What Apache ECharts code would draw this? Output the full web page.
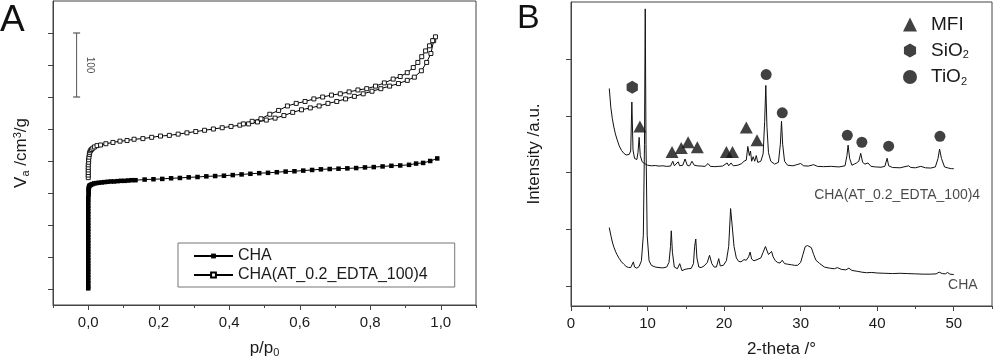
<!DOCTYPE html>
<html><head><meta charset="utf-8">
<script src="https://cdn.jsdelivr.net/npm/echarts@6/dist/echarts.min.js"></script>
<style>html,body{margin:0;padding:0;background:#fff}#c{width:1000px;height:363px}</style>
</head><body><div id="c"></div>
<script>
// ---------- Panel A: N2 isotherms (p/p0, Va cm3/g) ----------
const pressureTicks = [0, 0.2, 0.4, 0.6, 0.8, 1.0];
const pressureMinorTicks = [-0.1, 0.1, 0.3, 0.5, 0.7, 0.9, 1.1];
const volumeTicks = [0, 50, 100, 150, 200, 250, 300, 350, 400];
const chaIsotherm = [[0.000,1],[0.000,4],[0.000,9],[0.000,13],[0.000,18],[0.000,22],[0.000,27],[0.000,31],[0.000,36],[0.000,40],[0.000,45],[0.000,49],[0.000,54],[0.000,58],[0.000,63],[0.000,67],[0.000,72],[0.000,76],[0.000,81],[0.000,85],[0.000,90],[0.000,94],[0.000,99],[0.000,103],[0.000,108],[0.000,112],[0.000,117],[0.000,121],[0.000,126],[0.000,130],[0.000,135],[0.000,139],[0.000,143],[0.001,147],[0.001,151],[0.001,154],[0.001,157],[0.002,159],[0.003,161],[0.005,162],[0.008,163],[0.012,164],[0.017,165],[0.023,165.5],[0.030,166],[0.038,166.5],[0.046,167],[0.055,167.5],[0.064,168],[0.073,168],[0.083,168.5],[0.093,169],[0.103,169],[0.113,169.5],[0.123,170],[0.134,170],[0.160,171],[0.185,171.5],[0.210,172],[0.235,173],[0.260,173.5],[0.285,174.5],[0.310,175],[0.335,176],[0.360,176.5],[0.385,177],[0.410,178],[0.435,179],[0.460,180],[0.485,181],[0.510,181.5],[0.535,182.5],[0.560,183.5],[0.585,184],[0.610,185],[0.635,186],[0.660,187],[0.685,187.5],[0.710,188],[0.735,188.5],[0.760,189],[0.785,190],[0.810,190.5],[0.835,191.5],[0.860,192.5],[0.885,193],[0.910,194],[0.930,196],[0.950,197],[0.970,200],[0.990,204]];
const atAdsorption = [[0.000,174],[0.000,178],[0.000,182],[0.000,186],[0.000,190],[0.000,194],[0.001,198],[0.001,202],[0.002,206],[0.003,210],[0.004,213],[0.006,216],[0.009,218],[0.013,220],[0.018,222],[0.025,224],[0.035,225],[0.050,227],[0.070,229],[0.090,231],[0.110,232],[0.130,234],[0.155,235],[0.180,237],[0.205,239],[0.230,240],[0.255,242],[0.280,244],[0.305,246],[0.330,248],[0.355,250],[0.380,252],[0.405,254],[0.430,256],[0.455,258],[0.480,261],[0.505,264],[0.530,267],[0.555,271],[0.580,276],[0.605,280],[0.630,283],[0.655,286],[0.680,290],[0.705,293],[0.730,297],[0.755,301],[0.780,305],[0.805,309],[0.830,313],[0.855,317],[0.880,321],[0.905,326],[0.925,331],[0.945,341],[0.960,354],[0.972,368],[0.980,388]];
const atDesorption = [[0.985,394],[0.977,388],[0.968,380],[0.957,372],[0.946,363],[0.935,354],[0.922,346],[0.905,338],[0.885,332],[0.865,328],[0.840,322],[0.815,317],[0.790,313],[0.765,311],[0.740,308],[0.715,305],[0.690,303],[0.665,300],[0.640,297],[0.615,293],[0.590,290],[0.565,286],[0.540,279],[0.515,273],[0.490,266],[0.465,262],[0.440,258]];
const scaleBar = [[-0.033,300],[-0.033,400]];
const scaleBarLabel = [[0.003,350]];

// ---------- Panel B: XRD patterns (2-theta, intensity a.u.) ----------
const thetaTicks = [0, 10, 20, 30, 40, 50];
const thetaMinorTicks = [5, 15, 25, 35, 45, 55];
const intensityTicks = [0, 1000, 2000, 3000, 4000];
const xrdTreated = [[5.0,3480],[5.2,3150],[5.4,2950],[5.6,2800],[5.8,2680],[6.0,2590],[6.3,2470],[6.6,2390],[6.9,2340],[7.2,2310],[7.4,2300],[7.6,2320],[7.8,2380],[7.95,3241],[8.1,2400],[8.3,2250],[8.6,2230],[8.75,2350],[8.9,2620],[9.05,2300],[9.3,2190],[9.6,2160],[10,2130],[10.5,2120],[11,2125],[11.5,2115],[12,2120],[12.5,2110],[13,2115],[13.3,2200],[13.5,2120],[14.0,2190],[14.2,2120],[14.6,2130],[14.9,2240],[15.2,2125],[15.5,2120],[15.8,2200],[16.1,2130],[16.5,2120],[17,2115],[17.5,2110],[17.9,2160],[18.2,2110],[18.8,2105],[19.3,2110],[19.8,2115],[20.4,2170],[20.6,2120],[20.9,2170],[21.2,2120],[21.8,2130],[22.3,2160],[22.6,2200],[22.9,2220],[23.1,2460],[23.3,2300],[23.45,2380],[23.6,2200],[23.8,2280],[24.0,2200],[24.2,2300],[24.4,2180],[24.8,2200],[25.1,2330],[25.3,2900],[25.45,3534],[25.6,2800],[25.8,2350],[26.1,2200],[26.6,2150],[27.1,2180],[27.35,2500],[27.5,2902],[27.65,2500],[27.9,2200],[28.3,2130],[29,2120],[29.5,2140],[30,2160],[30.4,2120],[31,2115],[31.7,2140],[32.2,2110],[33,2105],[34,2110],[35,2100],[35.8,2120],[36.05,2300],[36.2,2483],[36.4,2250],[36.7,2130],[37.0,2150],[37.3,2170],[37.6,2200],[37.85,2339],[38.1,2180],[38.4,2150],[38.8,2170],[39.2,2110],[39.8,2100],[40.5,2095],[41.0,2110],[41.3,2253],[41.5,2120],[42,2090],[43,2085],[44.1,2120],[44.4,2090],[45,2085],[45.7,2110],[46.3,2085],[47,2080],[47.6,2100],[47.95,2250],[48.15,2413],[48.4,2250],[48.8,2100],[49.3,2080],[49.7,2070],[50,2069]];
const xrdCha = [[5.0,1034],[5.2,900],[5.4,780],[5.6,690],[5.8,620],[6.0,560],[6.3,490],[6.6,431],[6.9,390],[7.2,350],[7.5,333],[7.8,330],[8.0,345],[8.15,431],[8.3,340],[8.6,320],[8.9,350],[9.2,450],[9.45,900],[9.6,2500],[9.7,4879],[9.8,2500],[9.95,900],[10.2,450],[10.5,370],[11,340],[11.5,330],[12,325],[12.5,340],[12.8,420],[13.0,700],[13.1,977],[13.25,600],[13.5,340],[13.9,310],[14.2,400],[14.5,276],[14.9,300],[15.3,310],[15.7,316],[16.0,400],[16.15,700],[16.3,833],[16.45,500],[16.7,340],[17.0,330],[17.4,360],[17.8,420],[18.1,546],[18.4,400],[18.7,340],[19.0,340],[19.3,488],[19.5,360],[19.9,370],[20.3,450],[20.6,700],[20.85,1368],[21.0,1150],[21.3,700],[21.6,500],[21.9,440],[22.2,431],[22.6,470],[22.9,460],[23.2,520],[23.4,603],[23.6,480],[23.9,450],[24.3,470],[24.8,500],[25.1,600],[25.4,701],[25.6,680],[25.8,560],[26.0,580],[26.2,615],[26.4,520],[26.7,450],[27.0,420],[27.3,410],[27.6,460],[27.9,400],[28.3,390],[28.8,380],[29.2,370],[29.6,370],[30.0,420],[30.3,560],[30.6,700],[30.9,718],[31.1,690],[31.4,680],[31.7,560],[32.0,460],[32.5,400],[33.1,340],[33.8,320],[34.4,310],[34.8,330],[35.3,300],[35.9,290],[36.3,320],[36.7,280],[37.4,265],[38,250],[38.6,240],[39.3,245],[40,235],[41,230],[42,225],[43,230],[44,225],[45,220],[46,215],[47,215],[47.7,220],[48.1,250],[48.5,225],[48.9,220],[49.2,245],[49.5,215],[50,208]];
const mfiMarks = [[9.0,2810],[13.2,2362],[14.4,2431],[15.3,2534],[16.5,2448],[20.3,2362],[21.1,2362],[22.9,2793],[24.3,2569]];
const sio2Marks = [[8.0,3500]];
const tio2Marks = [[25.5,3724],[27.6,3051],[36.1,2655],[38.0,2534],[41.5,2465],[48.2,2638]];
const traceLabels = [[31.7,1612,'CHA(AT_0.2_EDTA_100)4'],[49.2,17,'CHA']];

const FONT = "'Liberation Sans', Arial, Helvetica, sans-serif";
const TXT = '#1a1a1a';
const LINE = '#444';
const HEX = 'path://M0,-1 L0.866,-0.5 L0.866,0.5 L0,1 L-0.866,0.5 L-0.866,-0.5 Z';

const chart = echarts.init(document.getElementById('c'), null, {renderer: 'canvas'});

function majorX(gi, min, max, ticks, fmt, name, gap, rich) {
  return {
    type: 'value', gridIndex: gi, min: min, max: max, position: 'bottom',
    axisLine: {show: true, onZero: false, lineStyle: {color: LINE, width: 1}},
    axisTick: {show: true, customValues: ticks, length: 5, lineStyle: {color: LINE}},
    axisLabel: {show: true, customValues: ticks, formatter: fmt, fontSize: 15, color: TXT, margin: 10, fontFamily: FONT},
    splitLine: {show: false},
    name: name, nameLocation: 'middle', nameGap: gap,
    nameTextStyle: {fontSize: 17, color: TXT, fontFamily: FONT, rich: rich}
  };
}
function minorX(gi, min, max, ticks) {
  return {
    type: 'value', gridIndex: gi, min: min, max: max, position: 'bottom',
    axisLine: {show: false, onZero: false},
    axisTick: {show: true, customValues: ticks, length: 3, lineStyle: {color: LINE}},
    axisLabel: {show: false}, splitLine: {show: false}
  };
}
const subRich = {
  sub: {fontSize: 11, fontFamily: FONT, color: TXT, verticalAlign: 'bottom', padding: [8, 0, 0, 0]},
  sup: {fontSize: 11, fontFamily: FONT, color: TXT, verticalAlign: 'top', padding: [0, 0, 8, 0]}
};

const option = {
  animation: false,
  backgroundColor: '#fff',
  textStyle: {fontFamily: FONT},
  title: [
    {text: 'A', left: 0, top: 2, padding: 0, textStyle: {fontSize: 37, fontWeight: 'normal', color: '#111', fontFamily: FONT}},
    {text: 'B', left: 517, top: 2, padding: 0, textStyle: {fontSize: 34, fontWeight: 'normal', color: '#111', fontFamily: FONT}}
  ],
  grid: [
    {left: 53, top: 1, width: 423, height: 308, show: true, borderColor: LINE, borderWidth: 1, containLabel: false},
    {left: 571, top: 2, width: 421, height: 308, show: true, borderColor: LINE, borderWidth: 1, containLabel: false}
  ],
  xAxis: [
    majorX(0, -0.1, 1.1, pressureTicks, v => v.toFixed(1).replace('.', ','), 'p/p{sub|0}', 34, subRich),
    minorX(0, -0.1, 1.1, pressureMinorTicks),
    majorX(1, 0, 55, thetaTicks, v => String(v), '2-theta /°', 35, subRich),
    minorX(1, 0, 55, thetaMinorTicks)
  ],
  yAxis: [
    {type: 'value', gridIndex: 0, min: -25, max: 450,
      axisLine: {show: true, onZero: false, lineStyle: {color: LINE}},
      axisTick: {show: true, customValues: volumeTicks, length: 5, lineStyle: {color: LINE}},
      axisLabel: {show: false}, splitLine: {show: false},
      name: 'V{sub|a} /cm{sup|3}/g', nameLocation: 'middle', nameGap: 22,
      nameTextStyle: {fontSize: 17, color: TXT, fontFamily: FONT, rich: subRich}},
    {type: 'value', gridIndex: 1, min: -345, max: 5000,
      axisLine: {show: true, onZero: false, lineStyle: {color: LINE}},
      axisTick: {show: true, customValues: intensityTicks, length: 5, lineStyle: {color: LINE}},
      axisLabel: {show: false}, splitLine: {show: false},
      name: 'Intensity /a.u.', nameLocation: 'middle', nameGap: 28,
      nameTextStyle: {fontSize: 17, color: TXT, fontFamily: FONT}}
  ],
  legend: [
    {data: ['CHA', 'CHA(AT_0.2_EDTA_100)4'], left: 178, top: 243, orient: 'vertical',
      itemWidth: 39, itemHeight: 6, itemGap: 3, padding: [5, 27, 4, 15],
      backgroundColor: '#fff', borderColor: '#777', borderWidth: 1, borderRadius: 0,
      textStyle: {fontSize: 16, color: TXT, fontFamily: FONT}},
    {data: ['MFI', 'SiO2', 'TiO2'], left: 903, top: 15, orient: 'vertical',
      itemWidth: 14, itemHeight: 14, itemGap: 7, padding: 0,
      formatter: n => '{g|}' + (n === 'SiO2' ? 'SiO{s|2}' : (n === 'TiO2' ? 'TiO{s|2}' : n)),
      textStyle: {fontSize: 19, color: TXT, fontFamily: FONT,
        rich: {g: {width: 9}, s: {fontSize: 11, color: TXT, fontFamily: FONT, verticalAlign: 'bottom', padding: [9, 0, 0, 0]}}}}
  ],
  series: [
    {name: 'CHA', type: 'line', xAxisIndex: 0, yAxisIndex: 0, data: chaIsotherm,
      symbol: 'rect', symbolSize: 4.5, showSymbol: true, z: 4,
      lineStyle: {color: '#000', width: 1}, itemStyle: {color: '#000'}},
    {name: 'CHA(AT_0.2_EDTA_100)4', type: 'line', xAxisIndex: 0, yAxisIndex: 0, data: atAdsorption,
      symbol: 'rect', symbolSize: 4, showSymbol: true, z: 3,
      lineStyle: {color: '#000', width: 1}, itemStyle: {color: '#fff', borderColor: '#000', borderWidth: 0.9}},
    {name: 'CHA(AT_0.2_EDTA_100)4', type: 'line', xAxisIndex: 0, yAxisIndex: 0, data: atDesorption,
      symbol: 'rect', symbolSize: 4, showSymbol: true, z: 3,
      lineStyle: {color: '#000', width: 1}, itemStyle: {color: '#fff', borderColor: '#000', borderWidth: 0.9}},
    {name: 'scale', type: 'line', xAxisIndex: 0, yAxisIndex: 0, data: scaleBar,
      symbol: 'rect', symbolSize: [7, 1.2], lineStyle: {color: '#555', width: 1}, itemStyle: {color: '#555'}},
    {name: 'scaleLabel', type: 'scatter', xAxisIndex: 0, yAxisIndex: 0, data: scaleBarLabel,
      symbolSize: 1, itemStyle: {color: 'rgba(0,0,0,0)'},
      label: {show: true, formatter: '100', position: 'inside', rotate: -90, fontSize: 10, color: TXT, fontFamily: FONT}},
    {name: 'xrdTreated', type: 'line', xAxisIndex: 2, yAxisIndex: 1, data: xrdTreated,
      symbol: 'none', showSymbol: false, lineStyle: {color: '#111', width: 1}},
    {name: 'xrdCha', type: 'line', xAxisIndex: 2, yAxisIndex: 1, data: xrdCha,
      symbol: 'none', showSymbol: false, lineStyle: {color: '#111', width: 1}},
    {name: 'MFI', type: 'scatter', xAxisIndex: 2, yAxisIndex: 1, data: mfiMarks,
      symbol: 'triangle', symbolSize: [13, 12], itemStyle: {color: '#111'}},
    {name: 'SiO2', type: 'scatter', xAxisIndex: 2, yAxisIndex: 1, data: sio2Marks,
      symbol: HEX, symbolSize: 13, symbolKeepAspect: true, itemStyle: {color: '#111'}},
    {name: 'TiO2', type: 'scatter', xAxisIndex: 2, yAxisIndex: 1, data: tio2Marks,
      symbol: 'circle', symbolSize: 11, itemStyle: {color: '#111'}},
    {name: 'traceLabels', type: 'scatter', xAxisIndex: 2, yAxisIndex: 1,
      data: traceLabels.map(d => ({value: [d[0], d[1]], label: {formatter: d[2]}})),
      symbolSize: 1, itemStyle: {color: 'rgba(0,0,0,0)'},
      label: {show: true, position: 'right', distance: 0, fontSize: 14, color: TXT, fontFamily: FONT}}
  ]
};
chart.setOption(option);
</script>
</body></html>
